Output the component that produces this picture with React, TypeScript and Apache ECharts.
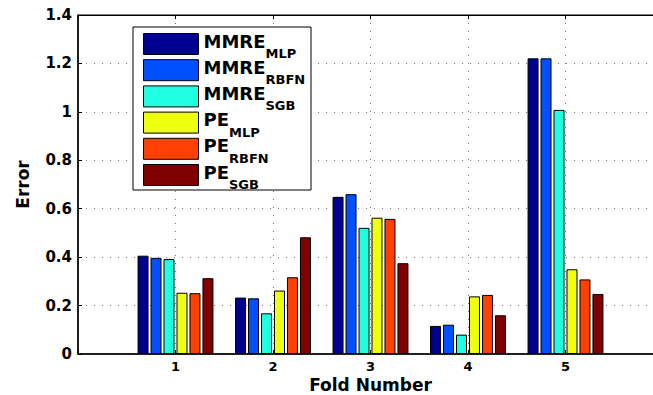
import React, { useEffect, useRef } from "react";
import * as echarts from "echarts";

const folds = [1, 2, 3, 4, 5];
const seriesNames = ["MMRE_MLP", "MMRE_RBFN", "MMRE_SGB", "PE_MLP", "PE_RBFN", "PE_SGB"];
const mmreMLP = [0.406, 0.233, 0.649, 0.116, 1.221];
const mmreRBFN = [0.397, 0.23, 0.66, 0.121, 1.221];
const mmreSGB = [0.392, 0.168, 0.521, 0.08, 1.008];
const peMLP = [0.253, 0.262, 0.563, 0.238, 0.35];
const peRBFN = [0.251, 0.317, 0.558, 0.244, 0.308];
const peSGB = [0.313, 0.482, 0.375, 0.16, 0.248];
const colors = ["#000090", "#0050FF", "#20FFDF", "#EFFF10", "#FF4000", "#800000"];

const FONT = "DejaVu Sans";

export default function App() {
  const ref = useRef<HTMLDivElement>(null);
  useEffect(() => {
    if (!ref.current) return;
    const chart = echarts.init(ref.current, null, { renderer: "svg" });
    const values = [mmreMLP, mmreRBFN, mmreSGB, peMLP, peRBFN, peSGB];
    const series = seriesNames.map((name, i) => ({
      name,
      type: "bar" as const,
      xAxisIndex: 0,
      yAxisIndex: 0,
      barWidth: 11,
      barGap: "18%",
      data: folds.map((f, j) => [f, values[i][j]]),
      itemStyle: { color: colors[i], borderColor: "#000", borderWidth: 1 },
      z: 2,
    }));
    const dotted = { color: "#777", type: [1, 7] as number[], width: 1 };
    chart.setOption({
      animation: false,
      grid: {
        left: 78,
        top: 15,
        width: 585,
        height: 339,
        containLabel: false,
        outerBoundsMode: "none",
        show: true,
        borderColor: "#000",
        borderWidth: 1,
        backgroundColor: "transparent",
      },
      xAxis: [
        {
          type: "value",
          min: 0,
          max: 6,
          interval: 1,
          position: "bottom",
          axisLine: { show: true, onZero: false, lineStyle: { color: "#000", width: 1.5 } },
          axisTick: { show: true, inside: true, length: 4, lineStyle: { color: "#000" } },
          axisLabel: {
            margin: 6,
            fontFamily: FONT,
            fontWeight: "bold",
            fontSize: 13,
            lineHeight: 13,
            color: "#000",
            formatter: (v: number) => (v >= 1 && v <= 5 ? String(v) : ""),
          },
          splitLine: { show: true, showMinLine: false, showMaxLine: false, lineStyle: dotted },
          name: "Fold Number",
          nameLocation: "middle",
          nameGap: 23,
          nameMoveOverlap: false,
          nameTextStyle: {
            fontFamily: FONT,
            fontWeight: "bold",
            fontSize: 17,
            lineHeight: 16,
            color: "#000",
          },
        },
        {
          type: "value",
          min: 0,
          max: 6,
          interval: 1,
          position: "top",
          axisLine: { show: true, onZero: false, lineStyle: { color: "#000", width: 1 } },
          axisTick: { show: true, inside: true, length: 4, lineStyle: { color: "#000" } },
          axisLabel: { show: false },
          splitLine: { show: false },
        },
      ],
      yAxis: {
        type: "value",
        min: 0,
        max: 1.4,
        interval: 0.2,
        axisLine: { show: true, lineStyle: { color: "#000", width: 1.5 } },
        axisTick: { show: true, inside: true, length: 4, lineStyle: { color: "#000" } },
        axisLabel: {
          margin: 6,
          fontFamily: FONT,
          fontWeight: "bold",
          fontSize: 15,
          color: "#000",
          formatter: (v: number) => String(Math.round(v * 10) / 10),
        },
        splitLine: { show: true, showMinLine: false, showMaxLine: false, lineStyle: dotted },
        name: "Error",
        nameLocation: "middle",
        nameGap: 47,
        nameMoveOverlap: false,
        nameTextStyle: { fontFamily: FONT, fontWeight: "bold", fontSize: 17, color: "#000" },
      },
      graphic: [
        {
          type: "rect",
          z: 5,
          shape: { x: 133, y: 27, width: 178, height: 163 },
          style: { fill: "#fff", stroke: "#000", lineWidth: 1 },
        },
      ],
      legend: {
        orient: "vertical",
        left: 133,
        top: 27,
        padding: [5, 10, 5, 10],
        itemWidth: 55,
        itemHeight: 21,
        itemGap: -1.8,
        z: 10,
        icon: "rect",
        itemStyle: { borderColor: "#000", borderWidth: 1 },
        data: seriesNames,
        formatter: (name: string) => {
          const [a, b] = name.split("_");
          return `{a|${a}}{b|${b}}`;
        },
        textStyle: {
          fontFamily: FONT,
          fontWeight: "bold",
          color: "#000",
          rich: {
            a: {
              fontFamily: FONT,
              fontWeight: "bold",
              fontSize: 18,
              lineHeight: 24,
              color: "#000",
              verticalAlign: "top",
            },
            b: {
              fontFamily: FONT,
              fontWeight: "bold",
              fontSize: 13,
              lineHeight: 12,
              color: "#000",
              verticalAlign: "top",
              padding: [15, 0, 0, 0],
            },
          },
        },
      },
      series,
    });
    return () => chart.dispose();
  }, []);
  return (
    <div
      ref={ref}
      style={{ position: "absolute", left: 0, top: 0, width: 653, height: 395, background: "#fff" }}
    />
  );
}
